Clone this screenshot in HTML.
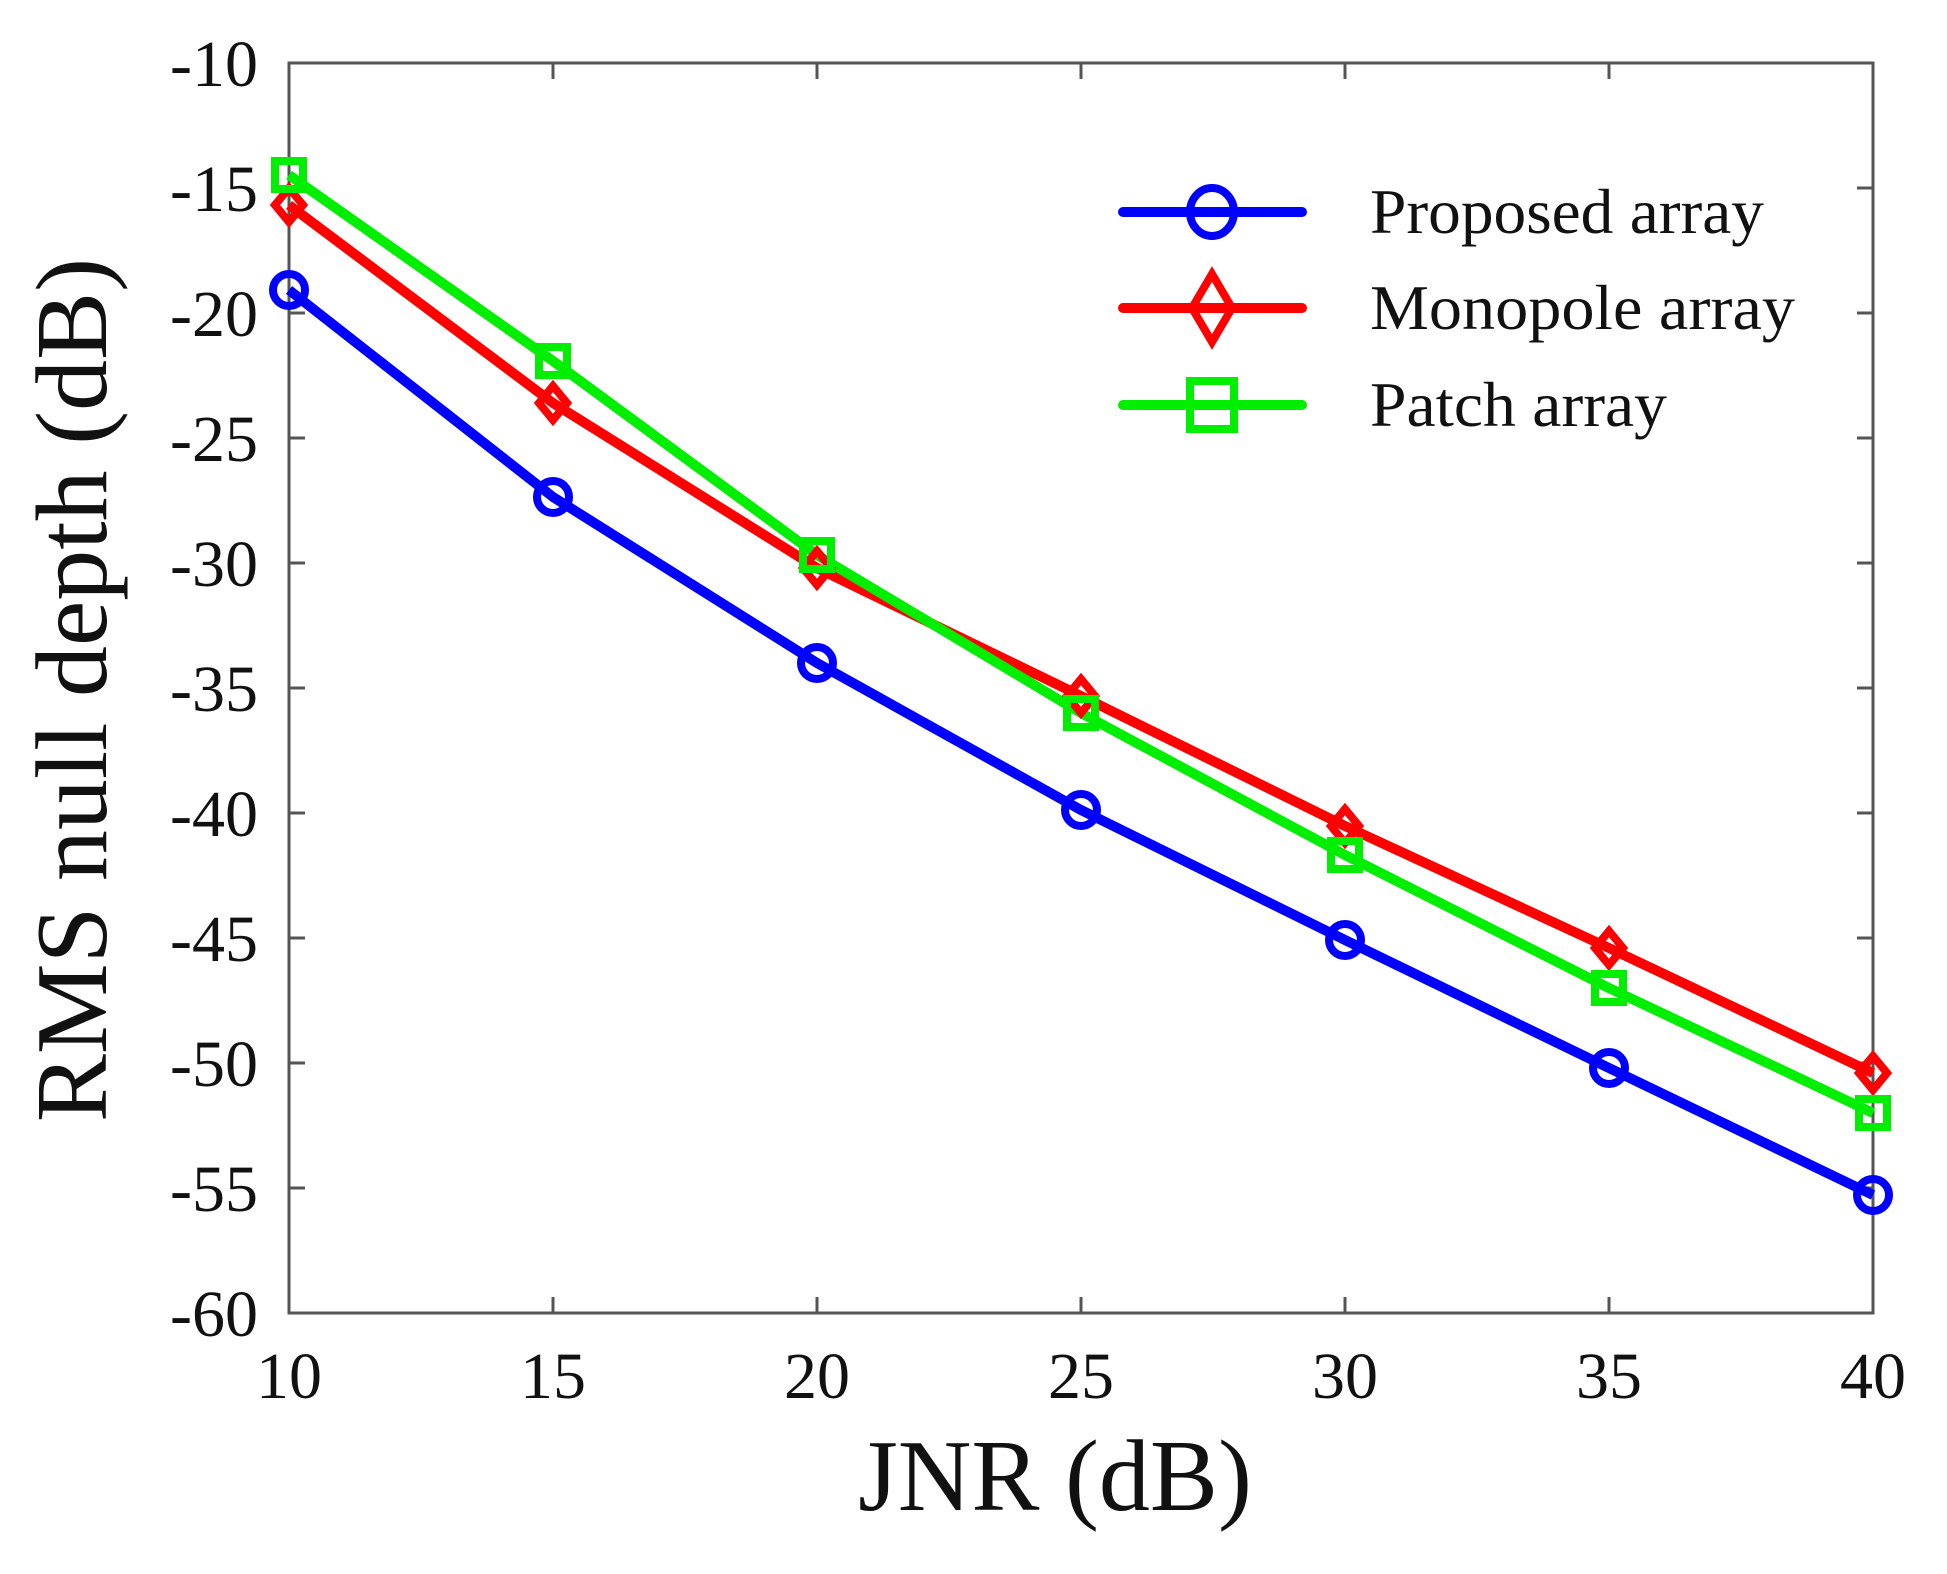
<!DOCTYPE html>
<html><head><meta charset="utf-8"><style>html,body{margin:0;padding:0;background:#fff}</style></head>
<body>
<svg width="1947" height="1569" xmlns="http://www.w3.org/2000/svg" font-family="Liberation Serif, serif">
<rect width="1947" height="1569" fill="#fff"/>
<g stroke="#555" stroke-width="3" fill="none">
<rect x="289" y="63" width="1584" height="1250"/>
<path d="M553,1313v-16M817,1313v-16M1081,1313v-16M1345,1313v-16M1609,1313v-16
M553,63v16M817,63v16M1081,63v16M1345,63v16M1609,63v16
M289,188h16M289,313h16M289,438h16M289,563h16M289,688h16M289,813h16M289,938h16M289,1063h16M289,1188h16
M1873,188h-16M1873,313h-16M1873,438h-16M1873,563h-16M1873,688h-16M1873,813h-16M1873,938h-16M1873,1063h-16M1873,1188h-16"/>
</g>
<g font-size="66" fill="#111" text-anchor="end">
<text x="258" y="86">-10</text><text x="258" y="211">-15</text><text x="258" y="336">-20</text>
<text x="258" y="461">-25</text><text x="258" y="586">-30</text><text x="258" y="711">-35</text>
<text x="258" y="836">-40</text><text x="258" y="961">-45</text><text x="258" y="1086">-50</text>
<text x="258" y="1211">-55</text><text x="258" y="1336">-60</text>
</g>
<g font-size="66" fill="#111" text-anchor="middle">
<text x="289" y="1398">10</text><text x="553" y="1398">15</text><text x="817" y="1398">20</text>
<text x="1081" y="1398">25</text><text x="1345" y="1398">30</text><text x="1609" y="1398">35</text><text x="1873" y="1398">40</text>
</g>
<text x="1055" y="1510" font-size="102" text-anchor="middle" fill="#111">JNR (dB)</text>
<text transform="translate(106,690) rotate(-90)" font-size="102" text-anchor="middle" fill="#111">RMS null depth (dB)</text>
<g fill="none" stroke-width="10" stroke-linejoin="round">
<polyline stroke="#0000ff" points="289,290 553,497 817,663 1081,810 1345,940 1609,1068 1873,1195"/>
<polyline stroke="#ff0000" points="289,205 553,403 817,568 1081,696 1345,826 1609,948 1873,1073"/>
<polyline stroke="#00ee00" points="289,175 553,361 817,555 1081,713 1345,855 1609,988 1873,1113"/>
</g>
<g fill="none" stroke-width="8">
<g stroke="#0000ff">
<circle cx="289" cy="290" r="16"/><circle cx="553" cy="497" r="16"/><circle cx="817" cy="663" r="16"/><circle cx="1081" cy="810" r="16"/><circle cx="1345" cy="940" r="16"/><circle cx="1609" cy="1068" r="16"/><circle cx="1873" cy="1195" r="16"/>
</g>
<g stroke="#ff0000">
<path d="M289,188l14,17l-14,17l-14,-17zM553,386l14,17l-14,17l-14,-17zM817,551l14,17l-14,17l-14,-17zM1081,679l14,17l-14,17l-14,-17zM1345,809l14,17l-14,17l-14,-17zM1609,931l14,17l-14,17l-14,-17zM1873,1056l14,17l-14,17l-14,-17z"/>
</g>
<g stroke="#00ee00">
<rect x="275" y="161" width="28" height="28"/><rect x="539" y="347" width="28" height="28"/><rect x="803" y="541" width="28" height="28"/><rect x="1067" y="699" width="28" height="28"/><rect x="1331" y="841" width="28" height="28"/><rect x="1595" y="974" width="28" height="28"/><rect x="1859" y="1099" width="28" height="28"/>
</g>
</g>
<g stroke-width="10" stroke-linecap="round" fill="none">
<line x1="1123" y1="212" x2="1302" y2="212" stroke="#0000ff"/>
<line x1="1123" y1="308" x2="1302" y2="308" stroke="#ff0000"/>
<line x1="1123" y1="405" x2="1302" y2="405" stroke="#00ee00"/>
</g>
<g fill="none" stroke-width="8">
<ellipse cx="1212" cy="212" rx="22" ry="24" stroke="#0000ff"/>
<path d="M1212,274l20,34l-20,34l-20,-34z" stroke="#ff0000"/>
<rect x="1190" y="381" width="44" height="48" stroke="#00ee00"/>
</g>
<g font-size="64" fill="#111">
<text x="1370" y="233" textLength="394" lengthAdjust="spacingAndGlyphs">Proposed array</text>
<text x="1370" y="329" textLength="425" lengthAdjust="spacingAndGlyphs">Monopole array</text>
<text x="1370" y="426" textLength="297" lengthAdjust="spacingAndGlyphs">Patch array</text>
</g>
</svg>
</body></html>
